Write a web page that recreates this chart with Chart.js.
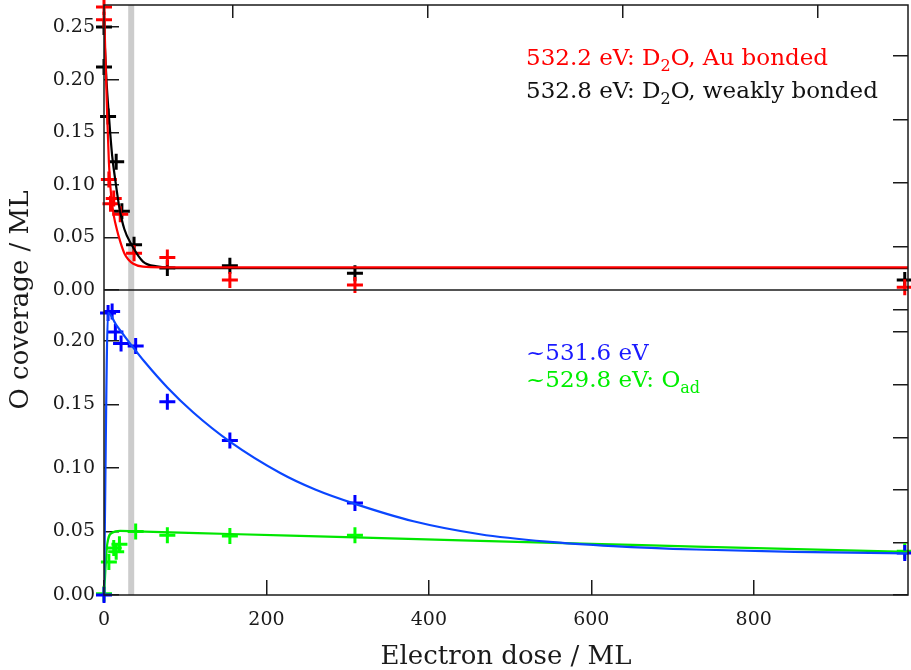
<!DOCTYPE html>
<html>
<head>
<meta charset="utf-8">
<script src="https://cdn.jsdelivr.net/npm/chart.js@4.4.0/dist/chart.umd.min.js"></script>
<style>
html, body { margin: 0; padding: 0; background: #fff; }
</style>
</head>
<body>
<canvas id="coverageChart" width="911" height="670"></canvas>
<script>
// measured points, top panel (D2O components)
const doseAu = [0, 0, 6, 8, 12, 20, 37, 78, 155, 309, 986];
const coverAu = [0.269, 0.257, 0.105, 0.082, 0.087, 0.072, 0.035, 0.031, 0.0095, 0.0048, 0.0025];
const doseWeak = [0, 0, 5, 15, 22, 37, 78, 155, 309, 986];
const coverWeak = [0.250, 0.212, 0.165, 0.122, 0.075, 0.043, 0.021, 0.023, 0.016, 0.0095];

// measured points, bottom panel
const doseBlue = [0, 5, 10, 14, 21, 39, 78, 155, 309, 986];
const coverBlue = [0, 0.222, 0.223, 0.207, 0.198, 0.196, 0.152, 0.1215, 0.0724, 0.033];
const doseGreen = [0, 6, 12, 15, 19, 39, 78, 155, 309, 986];
const coverGreen = [0.001, 0.026, 0.037, 0.034, 0.040, 0.050, 0.047, 0.0465, 0.047, 0.0345];

// fit curves
const fitDoseAu = [0, 2, 4, 6, 8, 10, 12, 16, 20, 25, 30, 36, 48, 70, 990];
const fitAu = [0.270, 0.215, 0.165, 0.122, 0.097, 0.082, 0.071, 0.057, 0.046, 0.035, 0.029, 0.025, 0.0222, 0.0216, 0.0216];
const fitDoseWeak = [0, 3, 6, 10, 14, 19, 25, 34, 48, 65, 100, 990];
const fitWeak = [0.250, 0.200, 0.166, 0.128, 0.104, 0.078, 0.058, 0.043, 0.027, 0.0225, 0.0208, 0.0207];
const fitDoseBlue = [0, 5, 15, 32, 50, 78, 110, 155, 217, 260, 310, 381, 463, 545, 627, 729, 850, 990];
const fitBlue = [0, 0.222, 0.2125, 0.198, 0.1835, 0.1633, 0.1436, 0.1207, 0.0960, 0.0830, 0.0715, 0.0580, 0.0478, 0.0420, 0.0385, 0.0358, 0.0340, 0.0328];
const fitDoseGreen = [0, 4, 10, 20, 39, 155, 309, 600, 729, 990];
const fitGreen = [0, 0.040, 0.049, 0.0505, 0.0500, 0.0480, 0.0453, 0.0403, 0.0380, 0.0340];

const xTicks = [0, 200, 400, 600, 800];
const xTopTicks = [159, 399, 639, 879];
const topTicks = [0, 0.05, 0.10, 0.15, 0.20, 0.25];
const bottomTicks = [0, 0.05, 0.10, 0.15, 0.20];
const bandDose = 33.5;

const FONT = 'DejaVu Serif';
const INK = '#1a1a1a';

function pts(xs, ys) {
    return xs.map((x, i) => ({ x: x, y: ys[i] }));
}

function marks(label, xs, ys, color, axis) {
    return {
        label: label, data: pts(xs, ys), yAxisID: axis,
        pointStyle: 'cross', pointRadius: 8, pointBorderWidth: 3,
        borderColor: color, backgroundColor: color,
        showLine: false, clip: false, order: 2
    };
}

function curve(label, xs, ys, color, axis) {
    return {
        label: label, data: pts(xs, ys), yAxisID: axis,
        showLine: true, pointRadius: 0, borderWidth: 2.2,
        borderColor: color, cubicInterpolationMode: 'monotone', order: 1
    };
}

function yScale(ticks, max, weight, side) {
    return {
        type: 'linear', position: side, stack: side, stackWeight: weight,
        min: 0, max: max,
        afterBuildTicks: s => { s.ticks = ticks.map(v => ({ value: v })); },
        afterFit: s => {
            s.width = side === 'left' ? 104 : 0;
            s.paddingTop = 0;
            s.paddingBottom = 0;
        },
        border: { display: false },
        grid: { drawOnChartArea: false, tickLength: -15, color: INK, lineWidth: 1.5 },
        ticks: {
            display: side === 'left', padding: 24, color: INK,
            font: { family: FONT, size: 19 },
            callback: v => v.toFixed(2)
        }
    };
}

const notes = [
    { axis: 'yTop', dy: 60, color: '#ff0000', parts: [['532.2 eV: D'], ['2', 1], ['O, Au bonded']] },
    { axis: 'yTop', dy: 93, color: '#111111', parts: [['532.8 eV: D'], ['2', 1], ['O, weakly bonded']] },
    { axis: 'yBot', dy: 70, color: '#1a1aff', parts: [['~531.6 eV']] },
    { axis: 'yBot', dy: 97, color: '#00ee00', parts: [['~529.8 eV: O'], ['ad', 1]] }
];

const framePlugin = {
    id: 'frame',
    beforeDatasetsDraw(chart) {
        const c = chart.ctx, a = chart.chartArea;
        const bx = chart.scales.x.getPixelForValue(bandDose);
        c.save();
        c.fillStyle = '#cccccc';
        c.fillRect(bx - 3, a.top, 6, a.bottom - a.top);
        c.restore();
    },
    afterDatasetsDraw(chart) {
        const c = chart.ctx, a = chart.chartArea;
        const mid = chart.scales.yTop.bottom;
        c.save();
        c.strokeStyle = INK;
        c.lineWidth = 1.5;
        c.strokeRect(a.left, a.top, a.right - a.left, a.bottom - a.top);
        c.beginPath();
        c.moveTo(a.left, mid);
        c.lineTo(a.right, mid);
        c.stroke();

        // panel notes
        c.textBaseline = 'alphabetic';
        notes.forEach(n => {
            let x = a.left + 422;
            const y = chart.scales[n.axis].top + n.dy;
            c.fillStyle = n.color;
            n.parts.forEach(p => {
                const sub = p[1] === 1;
                c.font = (sub ? 16 : 23) + 'px "' + FONT + '"';
                c.fillText(p[0], x, sub ? y + 6 : y);
                x += c.measureText(p[0]).width;
            });
        });

        // shared y title
        c.translate(21, (a.top + a.bottom) / 2);
        c.rotate(-Math.PI / 2);
        c.font = '26px "' + FONT + '"';
        c.fillStyle = INK;
        c.textAlign = 'center';
        c.textBaseline = 'middle';
        c.fillText('O coverage / ML', 0, 0);
        c.restore();
    }
};

const ctx = document.getElementById('coverageChart').getContext('2d');
new Chart(ctx, {
    type: 'scatter',
    data: {
        datasets: [
            curve('532.2 eV fit', fitDoseAu, fitAu, '#ff0000', 'yTop'),
            curve('532.8 eV fit', fitDoseWeak, fitWeak, '#000000', 'yTop'),
            curve('531.6 eV fit', fitDoseBlue, fitBlue, '#0a46ff', 'yBot'),
            curve('529.8 eV fit', fitDoseGreen, fitGreen, '#00e600', 'yBot'),
            marks('532.2 eV', doseAu, coverAu, '#ff0000', 'yTop'),
            marks('532.8 eV', doseWeak, coverWeak, '#000000', 'yTop'),
            marks('531.6 eV', doseBlue, coverBlue, '#0000ff', 'yBot'),
            marks('529.8 eV', doseGreen, coverGreen, '#00ff00', 'yBot')
        ]
    },
    options: {
        responsive: false,
        animation: false,
        layout: { autoPadding: false, padding: { left: 0, right: 3, top: 5, bottom: 0 } },
        plugins: { legend: { display: false }, tooltip: { enabled: false } },
        scales: {
            x: {
                type: 'linear', position: 'bottom', min: 0, max: 990,
                afterBuildTicks: s => { s.ticks = xTicks.map(v => ({ value: v })); },
                afterFit: s => { s.height = 75; s.paddingLeft = 0; s.paddingRight = 0; },
                border: { display: false },
                grid: { drawOnChartArea: false, tickLength: -15, color: INK, lineWidth: 1.5 },
                ticks: { padding: 29, color: INK, font: { family: FONT, size: 19 }, maxRotation: 0 },
                title: {
                    display: true, text: 'Electron dose / ML', color: INK,
                    font: { family: FONT, size: 26 }, padding: { top: 0, bottom: -3 }
                }
            },
            xTop: {
                type: 'linear', position: 'top', min: 0, max: 990,
                afterBuildTicks: s => { s.ticks = xTopTicks.map(v => ({ value: v })); },
                afterFit: s => { s.height = 0; s.paddingLeft = 0; s.paddingRight = 0; },
                border: { display: false },
                grid: { drawOnChartArea: false, tickLength: -13, color: INK, lineWidth: 1.5 },
                ticks: { display: false }
            },
            // stacked panels: later-defined left scale sits on top
            yBot: yScale(bottomTicks, 0.240, 305, 'left'),
            yTop: yScale(topTicks, 0.271, 285, 'left'),
            yBotR: yScale(bottomTicks, 0.240, 305, 'right'),
            yTopR: yScale(topTicks, 0.271, 285, 'right')
        }
    },
    plugins: [framePlugin]
});
</script>
</body>
</html>
